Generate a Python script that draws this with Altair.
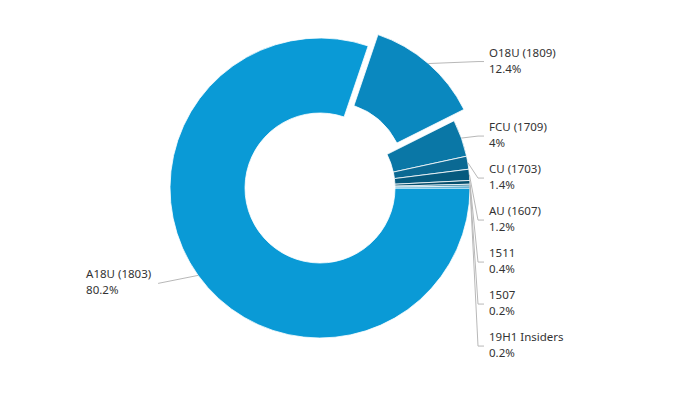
import math
import altair as alt
import pandas as pd

# ---- data ----
names = ["A18U (1803)", "O18U (1809)", "FCU (1709)", "CU (1703)", "AU (1607)",
         "1511", "1507", "19H1 Insiders"]
shares = [80.2, 12.4, 4.0, 1.4, 1.2, 0.4, 0.2, 0.2]
share_text = ["80.2%", "12.4%", "4%", "1.4%", "1.2%", "0.4%", "0.2%", "0.2%"]

# ---- styles ----
colors = ["#0a9ad6", "#0a88bf", "#0a77a6", "#0b6993", "#065a7e",
          "#044e6d", "#0a6890", "#0c86b8"]
exploded = ["O18U (1809)"]
EXPLODE = 15
CX, CY = 312, 180          # donut centre inside the plot area
R_OUT, R_IN = 150, 75
GAP = 42                   # vertical spacing of right-hand labels
ELBOW_X, LABEL_X = 470, 481

df = pd.DataFrame({"seq": range(len(names)), "name": names,
                   "share": shares, "pct": share_text})

base = alt.Chart(df).transform_window(
    cum="sum(share)", sort=[alt.SortField("seq", order="ascending")]
).transform_calculate(
    start="datum.cum - datum.share",
    end="datum.cum",
).transform_calculate(
    mid="PI/2 + 2*PI*(datum.start + datum.share/2)/100",
    off=f"indexof({exploded}, datum.name) >= 0 ? {EXPLODE} : 0",
).transform_calculate(
    cx=f"{CX} + datum.off*sin(datum.mid)",
    cy=f"{CY} - datum.off*cos(datum.mid)",
).transform_calculate(
    px=f"datum.cx + {R_OUT}*sin(datum.mid)",
    py=f"datum.cy - {R_OUT}*cos(datum.mid)",
    side="sin(datum.mid) >= 0 ? 1 : -1",
    label="datum.name + '\\n' + datum.pct",
)

arcs = base.mark_arc(innerRadius=R_IN, outerRadius=R_OUT, stroke="white",
                     strokeWidth=0.8).encode(
    theta=alt.Theta("start:Q", scale=alt.Scale(domain=[0, 100],
                                                range=[math.pi / 2, math.pi / 2 + 2 * math.pi])),
    theta2="end:Q",
    x=alt.X("cx:Q", scale=None),
    y=alt.Y("cy:Q", scale=None),
    color=alt.Color("name:N", scale=alt.Scale(domain=names, range=colors), legend=None),
)

lab = base.transform_window(
    k="row_number()", groupby=["side"], sort=[alt.SortField("seq", order="ascending")]
).transform_calculate(
    adj=f"datum.py - {GAP}*(datum.k-1)"
).transform_window(
    mx="max(adj)", groupby=["side"], sort=[alt.SortField("seq", order="ascending")],
    frame=[None, 0]
).transform_calculate(
    yc=f"datum.side > 0 ? datum.mx + {GAP}*(datum.k-1) - 2 : datum.py + 8",
    x1=f"datum.side > 0 ? {ELBOW_X} : datum.px - 40",
).transform_calculate(
    x2=f"datum.side > 0 ? {LABEL_X - 5} : datum.x1",
    tx=f"datum.side > 0 ? {LABEL_X} : datum.x1 - 72",
)

lead1 = lab.mark_rule(color="#b8b8b8", strokeWidth=1).encode(
    x=alt.X("px:Q", scale=None), y=alt.Y("py:Q", scale=None),
    x2="x1:Q", y2="yc:Q")
lead2 = lab.mark_rule(color="#b8b8b8", strokeWidth=1).encode(
    x=alt.X("x1:Q", scale=None), y=alt.Y("yc:Q", scale=None),
    x2="x2:Q", y2="yc:Q")
texts = lab.mark_text(align="left", baseline="middle", lineBreak="\n", dy=-8,
                      fontSize=11.5, lineHeight=16, font="Noto Sans",
                      color="#333333").encode(
    x=alt.X("tx:Q", scale=None), y=alt.Y("yc:Q", scale=None), text="label:N")

chart = alt.layer(arcs, lead1, lead2, texts).properties(
    width=669, height=382, autosize="none", padding=0
).configure_view(stroke=None)

chart.save("out.html", embed_options={"renderer": "svg", "actions": False})
